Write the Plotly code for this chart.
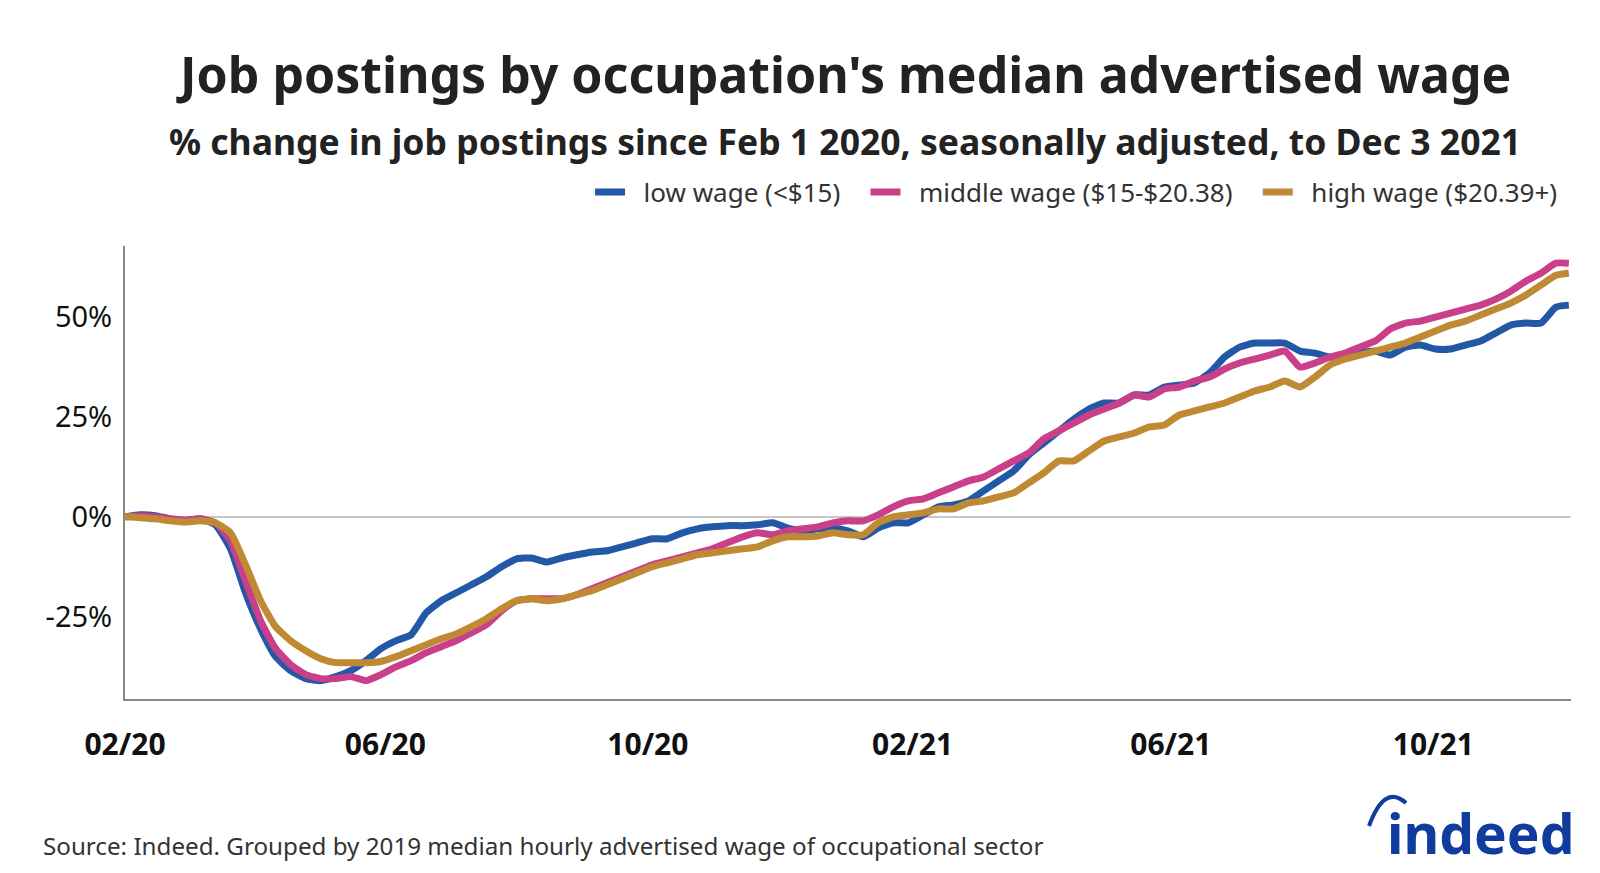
import pandas as pd
import plotly.graph_objects as go

# Weekly observation dates from Feb 1 2020 to Dec 3 2021
dates = list(pd.date_range("2020-02-01", "2021-11-27", freq="7D").strftime("%Y-%m-%d")) + ["2021-12-03"]

low_wage = [
    0, 0.5, 0.3, -0.5, -1.0, -0.5, -2.0, -8, -19, -28,
    -35, -38.5, -40.5, -41, -40, -38.5, -36, -33, -31, -29.5,
    -24, -21, -19, -17, -15, -12.5, -10.5, -10.3, -11.3, -10.3,
    -9.5, -8.8, -8.5, -7.5, -6.5, -5.5, -5.5, -4, -3, -2.5,
    -2.2, -2.2, -2.0, -1.5, -2.8, -3.5, -3.0, -2.8, -3.5, -5.0,
    -2.8, -1.5, -1.5, 0.5, 2.5, 3.0, 4.0, 6.5, 9.0, 11.5,
    15.5, 18.5, 21.5, 24.5, 27.0, 28.5, 28.5, 30.5, 30.5, 32.5,
    33.0, 33.5, 36.0, 40.0, 42.5, 43.5, 43.5, 43.5, 41.5, 41.0,
    40.0, 40.0, 41.0, 41.5, 40.5, 42.5, 43.0, 42.0, 42.0, 43.0,
    44.0, 46.0, 48.0, 48.5, 48.5, 52.5, 53.0,
]

middle_wage = [
    0, 0.3, 0, -0.5, -0.8, -0.5, -1.5, -6, -16, -26,
    -33, -37, -39.5, -40.5, -40.5, -40.0, -41.0, -39.5, -37.5, -36,
    -34, -32.5, -31, -29, -27, -23.5, -21, -20.5, -20.5, -20.5,
    -19.5, -18, -16.5, -15, -13.5, -12, -11, -10, -9, -8,
    -6.5, -5, -4, -4.5, -3.5, -3, -2.5, -1.5, -1.0, -1.0,
    0.5, 2.5, 4.0, 4.5, 6, 7.5, 9, 10, 12, 14,
    16, 19.5, 21.5, 23.5, 25.5, 27, 28.5, 30.5, 30, 32,
    32.5, 34, 35, 37, 38.5, 39.5, 40.5, 41.5, 37.5, 38.5,
    40, 41, 42.5, 44, 47, 48.5, 49, 50, 51, 52,
    53, 54.5, 56.5, 59, 61, 63.5, 63.5,
]

high_wage = [
    0, -0.2, -0.5, -1.0, -1.3, -1.0, -1.5, -4, -12, -21,
    -27.5, -31, -33.5, -35.5, -36.5, -36.5, -36.5, -36.2, -35, -33.5,
    -32, -30.5, -29.3, -27.5, -25.5, -23, -21, -20.5, -21, -20.5,
    -19.5, -18.5, -17, -15.5, -14, -12.5, -11.5, -10.5, -9.5, -9.0,
    -8.5, -8, -7.5, -6, -5, -5, -4.8, -4.0, -4.5, -4.5,
    -1.5, 0, 0.5, 1, 2, 2.0, 3.5, 4.0, 5, 6,
    8.5, 11, 14, 14, 16.5, 19, 20, 21, 22.5, 23,
    25.5, 26.5, 27.5, 28.5, 30, 31.5, 32.5, 34, 32.5, 35,
    38, 39.5, 40.5, 41.5, 42.5, 43.5, 45, 46.5, 48, 49,
    50.5, 52, 53.5, 55.5, 58, 60.5, 61,
]

series_names = ["low wage (<$15)", "middle wage ($15-$20.38)", "high wage ($20.39+)"]
series_colors = ["#2358A6", "#C93F8A", "#C08A35"]

tick_dates = ["2020-02-01", "2020-06-01", "2020-10-01", "2021-02-01", "2021-06-01", "2021-10-01"]
tick_labels = ["02/20", "06/20", "10/20", "02/21", "06/21", "10/21"]
y_ticks = [-25, 0, 25, 50]
y_tick_labels = ["-25%", "0%", "25%", "50%"]

FONT = "Noto Sans"
TEXT = "#333333"
NB = "\u00a0"

fig = go.Figure()
for i, (name, vals, col) in enumerate(zip(series_names, [low_wage, middle_wage, high_wage], series_colors)):
    label = NB * 2 + name + (NB * 3 if i < 2 else "")
    fig.add_trace(go.Scatter(
        x=dates, y=vals, name=label, mode="lines",
        line=dict(color=col, width=7, shape="spline", smoothing=0.5),
        hoverinfo="skip",
    ))

fig.update_layout(
    width=1600, height=873,
    margin=dict(l=117, r=37, t=238, b=182),
    paper_bgcolor="white", plot_bgcolor="white",
    font=dict(family=FONT, color=TEXT),
    showlegend=True,
    legend=dict(
        orientation="h", x=0.9945, xanchor="right", y=1.119, yanchor="middle",
        font=dict(size=26, color=TEXT, family=FONT),
        itemwidth=30, tracegroupgap=0, bgcolor="rgba(0,0,0,0)",
    ),
    xaxis=dict(
        type="date", range=["2020-02-01", "2021-12-04"],
        tickvals=tick_dates, ticktext=tick_labels,
        tickfont=dict(size=30, color="#111111", family=FONT, weight="bold"),
        ticks="", ticklabelstandoff=18,
        showgrid=False, zeroline=False,
        showline=True, linecolor="#888888", linewidth=2,
    ),
    yaxis=dict(
        range=[-45.6, 67.8], tickvals=y_ticks, ticktext=y_tick_labels,
        tickfont=dict(size=29, color="#111111", family=FONT),
        ticks="", ticklabelstandoff=5,
        showgrid=False,
        zeroline=True, zerolinecolor="#C8C8C8", zerolinewidth=2,
        showline=True, linecolor="#888888", linewidth=2,
    ),
    annotations=[
        dict(text="<b>Job postings by occupation's median advertised wage</b>",
             xref="paper", yref="paper", x=0.4969, y=1.3797, xanchor="center", yanchor="middle",
             showarrow=False, font=dict(size=50, color="#222222", family=FONT)),
        dict(text="<b>% change in job postings since Feb 1 2020, seasonally adjusted, to Dec 3 2021</b>",
             xref="paper", yref="paper", x=0.4980, y=1.2318, xanchor="center", yanchor="middle",
             showarrow=False, font=dict(size=35.5, color="#222222", family=FONT)),
        dict(text="Source: Indeed. Grouped by 2019 median hourly advertised wage of occupational sector",
             xref="paper", yref="paper", x=-0.058, y=-0.3223, xanchor="left", yanchor="middle",
             showarrow=False, font=dict(size=24.2, color=TEXT, family=FONT)),
        dict(text="<b>indeed</b>",
             xref="paper", yref="paper", x=1.0035, y=-0.2936, xanchor="right", yanchor="middle",
             showarrow=False, font=dict(size=55, color="#0F3C9E", family=FONT)),
    ],
    shapes=[
        dict(type="path", xref="paper", yref="paper",
             path="M 0.8603,-0.2804 Q 0.8710,-0.1865 0.8859,-0.2296",
             line=dict(color="#0F3C9E", width=4)),
    ],
)

fig.write_html("out.html")
